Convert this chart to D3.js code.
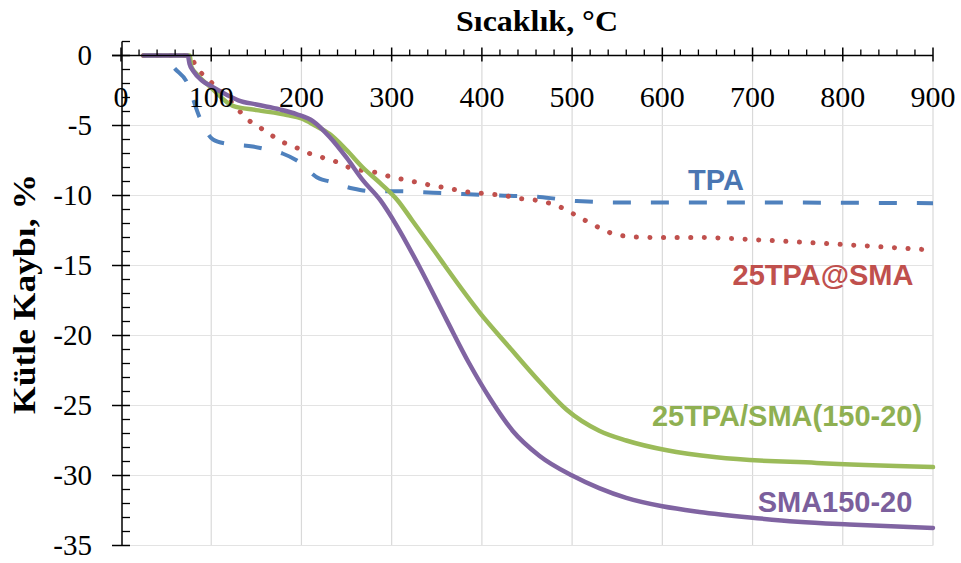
<!DOCTYPE html>
<html>
<head>
<meta charset="utf-8">
<script src="https://cdn.jsdelivr.net/npm/d3@7"></script>
<style>
  body { margin: 0; background: #fff; }
  svg { display: block; }
</style>
</head>
<body>
<svg id="chart" width="961" height="563"></svg>
<script>
// sicaklik (C) ve kutle kaybi (%) okunan degerler
const tpa = [[25,0],[50,0],[58,-0.8],[73,-1.9],[87,-4.4],[102,-6.0],[117,-6.3],[146,-6.5],[161,-6.7],
  [179,-7.0],[195,-7.5],[220,-8.8],[231,-9.0],[257,-9.5],[279,-9.7],[306,-9.7],[346,-9.8],[420,-10.0],
  [464,-10.1],[505,-10.4],[560,-10.5],[700,-10.5],[900,-10.55]];

const tpaSma = [[25,0],[76,0],[84,-0.9],[93,-1.5],[110,-2.5],[125,-3.5],[139,-4.5],[153,-5.1],[167,-5.7],
  [180,-6.2],[195,-6.6],[209,-7.0],[224,-7.3],[239,-7.6],[253,-8.0],[285,-8.4],[301,-8.7],[317,-8.9],
  [331,-9.1],[346,-9.3],[364,-9.5],[379,-9.7],[409,-9.9],[425,-10.0],[440,-10.2],[456,-10.3],[472,-10.5],
  [486,-10.8],[501,-11.3],[515,-11.8],[530,-12.3],[544,-12.7],[559,-12.9],[589,-13.0],[637,-13.0],
  [715,-13.2],[800,-13.5],[900,-13.9]];

const tpaSma150 = [[25,0],[76,0],[78,-0.8],[85,-1.4],[100,-2.3],[124,-3.6],[150,-3.9],[184,-4.25],
  [200,-4.5],[215,-5.0],[231,-5.6],[250,-6.75],[268,-8.0],[287,-9.1],[306,-10.3],[323,-11.8],[350,-14.2],
  [361,-15.2],[398,-18.4],[430,-20.8],[464,-23.3],[494,-25.3],[530,-26.8],[560,-27.5],[605,-28.2],
  [660,-28.7],[771,-29.1],[900,-29.4]];

const sma150 = [[25,0],[74,0],[76,-0.6],[80,-1.1],[90,-1.8],[100,-2.2],[117,-2.8],[130,-3.2],[150,-3.5],
  [176,-3.85],[195,-4.2],[213,-4.7],[231,-5.8],[250,-7.3],[268,-8.9],[287,-10.3],[306,-12.2],[330,-15.0],
  [361,-18.9],[386,-22.0],[409,-24.5],[434,-26.8],[464,-28.6],[500,-30.0],[530,-30.9],[560,-31.6],
  [600,-32.2],[641,-32.6],[697,-33.0],[750,-33.3],[807,-33.5],[900,-33.75]];

const xTicks = [0,100,200,300,400,500,600,700,800,900];
const yTicks = [0,-5,-10,-15,-20,-25,-30,-35];

const series = [
  { name: "TPA", data: tpa, color: "#4f81bd", dash: "18 20", cap: "butt", width: 4,
    label: { x: 716, y: 190, color: "#4a76b2" } },
  { name: "25TPA@SMA", data: tpaSma, color: "#c0504d", dash: "0.1 13.5", cap: "round", width: 5,
    label: { x: 823, y: 285, color: "#c0504d" } },
  { name: "25TPA/SMA(150-20)", data: tpaSma150, color: "#9bbb59", dash: null, cap: "round", width: 4.5,
    label: { x: 787, y: 426, color: "#8fb052" } },
  { name: "SMA150-20", data: sma150, color: "#8064a2", dash: null, cap: "round", width: 4.5,
    label: { x: 835, y: 512, color: "#7b5f9c" } }
];

const svg = d3.select("#chart");

const x = d3.scaleLinear().domain([0, 900]).range([121, 933]);
const y = d3.scaleLinear().domain([-35, 1]).range([545.5, 41.5]);

// grid
svg.append("g")
  .selectAll("line")
  .data(xTicks.slice(1))
  .join("line")
  .attr("x1", d => x(d)).attr("x2", d => x(d))
  .attr("y1", y(0)).attr("y2", y(-35))
  .attr("stroke", "#d9d9d9").attr("stroke-width", 1.2);

svg.append("g")
  .selectAll("line")
  .data(yTicks.slice(1))
  .join("line")
  .attr("x1", x(0)).attr("x2", x(900))
  .attr("y1", d => y(d)).attr("y2", d => y(d))
  .attr("stroke", "#e3e3e3").attr("stroke-width", 1.2);

// series
const line = d3.line()
  .x(d => x(d[0]))
  .y(d => y(d[1]))
  .curve(d3.curveMonotoneX);

series.forEach(s => {
  svg.append("path")
    .datum(s.data)
    .attr("fill", "none")
    .attr("stroke", s.color)
    .attr("stroke-width", s.width)
    .attr("stroke-linecap", s.cap)
    .attr("stroke-linejoin", "round")
    .attr("stroke-dasharray", s.dash)
    .attr("d", line);
});

// x axis along y = 0
const xAxis = svg.append("g");
xAxis.append("line")
  .attr("x1", 112).attr("x2", x(900))
  .attr("y1", y(0)).attr("y2", y(0))
  .attr("stroke", "#000").attr("stroke-width", 1.5);

xAxis.selectAll("line.minor")
  .data(d3.range(0, 901, 20).filter(v => v % 100 !== 0))
  .join("line")
  .attr("class", "minor")
  .attr("x1", d => x(d)).attr("x2", d => x(d))
  .attr("y1", y(0)).attr("y2", y(0) - 6)
  .attr("stroke", "#000").attr("stroke-width", 1.3);

xAxis.selectAll("line.major")
  .data(xTicks)
  .join("line")
  .attr("class", "major")
  .attr("x1", d => x(d)).attr("x2", d => x(d))
  .attr("y1", y(0) - 8).attr("y2", y(0) + 6)
  .attr("stroke", "#000").attr("stroke-width", 1.5);

xAxis.selectAll("text")
  .data(xTicks)
  .join("text")
  .attr("x", d => x(d))
  .attr("y", 107)
  .attr("text-anchor", "middle")
  .attr("font-family", "'Liberation Serif', 'Times New Roman', serif")
  .attr("font-size", 30)
  .attr("fill", "#000")
  .text(d => d);

// y axis
const yAxis = svg.append("g");
yAxis.append("line")
  .attr("x1", 122).attr("x2", 122)
  .attr("y1", y(1)).attr("y2", y(-35))
  .attr("stroke", "#000").attr("stroke-width", 1.5);

yAxis.selectAll("line.minor")
  .data(d3.range(-35, 2, 1).filter(v => v % 5 !== 0))
  .join("line")
  .attr("class", "minor")
  .attr("x1", 122).attr("x2", 130)
  .attr("y1", d => y(d)).attr("y2", d => y(d))
  .attr("stroke", "#000").attr("stroke-width", 1.3);

yAxis.selectAll("line.major")
  .data(yTicks)
  .join("line")
  .attr("class", "major")
  .attr("x1", 112).attr("x2", 130)
  .attr("y1", d => y(d)).attr("y2", d => y(d))
  .attr("stroke", "#000").attr("stroke-width", 1.5);

yAxis.selectAll("text")
  .data(yTicks)
  .join("text")
  .attr("x", 92)
  .attr("y", d => y(d))
  .attr("dy", "0.34em")
  .attr("text-anchor", "end")
  .attr("font-family", "'Liberation Serif', 'Times New Roman', serif")
  .attr("font-size", 29)
  .attr("fill", "#000")
  .text(d => d);

// titles
svg.append("text")
  .attr("x", 537).attr("y", 31)
  .attr("text-anchor", "middle")
  .attr("font-family", "'Liberation Serif', 'Times New Roman', serif")
  .attr("font-weight", "bold")
  .attr("font-size", 30)
  .attr("textLength", 162)
  .attr("lengthAdjust", "spacingAndGlyphs")
  .text("Sıcaklık, °C");

svg.append("text")
  .attr("transform", "translate(35,294) rotate(-90)")
  .attr("text-anchor", "middle")
  .attr("font-family", "'Liberation Serif', 'Times New Roman', serif")
  .attr("font-weight", "bold")
  .attr("font-size", 31)
  .attr("textLength", 240)
  .attr("lengthAdjust", "spacingAndGlyphs")
  .text("Kütle Kaybı, %");

// series labels
svg.append("g")
  .selectAll("text")
  .data(series)
  .join("text")
  .attr("x", d => d.label.x)
  .attr("y", d => d.label.y)
  .attr("text-anchor", "middle")
  .attr("font-family", "'Liberation Sans', Arial, sans-serif")
  .attr("font-weight", "bold")
  .attr("font-size", 29)
  .attr("fill", d => d.label.color)
  .text(d => d.name);
</script>
</body>
</html>
